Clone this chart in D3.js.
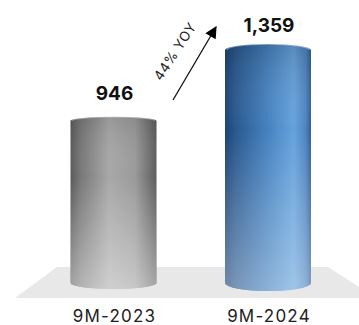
<!DOCTYPE html>
<html><head><meta charset="utf-8">
<script src="https://cdn.jsdelivr.net/npm/d3@7"></script>
<style>body{margin:0;background:#fff}svg{display:block}</style>
</head><body>
<svg id="c" width="359" height="325"></svg>
<script>
const categories = ["9M-2023", "9M-2024"];
const values = [946, 1359];
const valueLabels = ["946", "1,359"];
const growthLabel = "44% YOY";

const svg = d3.select("#c");
const x = d3.scalePoint().domain(categories).range([113.5, 268]);
const y = d3.scaleLinear().domain([0, 1359]).range([283, 50]);
const bw = 86;

const defs = svg.append("defs");
function hgrad(id, stops) {
  const g = defs.append("linearGradient").attr("id", id).attr("x1", 0).attr("x2", 1).attr("y1", 0).attr("y2", 0);
  stops.forEach(s => g.append("stop").attr("offset", s[0]).attr("stop-color", s[1]));
}
hgrad("g0", [[0, "#5a5a5a"], [0.12, "#787878"], [0.45, "#a8a8a8"], [0.75, "#9a9a9a"], [0.93, "#6e6e6e"], [1, "#5c5c5c"]]);
hgrad("g1", [[0, "#1b4272"], [0.12, "#29588f"], [0.5, "#4682c0"], [0.8, "#65a2dc"], [0.94, "#4d84be"], [1, "#2f5e96"]]);
function vgrad(id, topOp, botOp) {
  const vg = defs.append("linearGradient").attr("id", id).attr("x1", 0).attr("x2", 0).attr("y1", 0).attr("y2", 1);
  vg.append("stop").attr("offset", 0).attr("stop-color", "#000").attr("stop-opacity", topOp);
  vg.append("stop").attr("offset", 0.35).attr("stop-color", "#fff").attr("stop-opacity", 0.0);
  vg.append("stop").attr("offset", 1).attr("stop-color", "#fff").attr("stop-opacity", botOp);
}
vgrad("v0", 0.1, 0.45);
vgrad("v1", 0.15, 0.38);

// floor
svg.append("path")
  .attr("d", "M57,267 L328,267 L359,287 L359,298 L15,298 Z")
  .attr("fill", "#e8e8e8");

const ryTop = [4, 6], ryBot = [6, 8];
categories.forEach((c, i) => {
  const cx = x(c), l = cx - bw / 2, r = cx + bw / 2, rx = bw / 2;
  const top = y(values[i]), bot = y(0);
  const d = `M${l},${top} L${l},${bot} A${rx},${ryBot[i]} 0 0 0 ${r},${bot} L${r},${top} A${rx},${ryTop[i]} 0 0 0 ${l},${top} Z`;
  svg.append("path").attr("d", d).attr("fill", `url(#g${i})`);
  svg.append("path").attr("d", d).attr("fill", `url(#v${i})`);
  svg.append("path")
    .attr("d", `M${l+2},${top} A${rx-2},${ryTop[i]} 0 0 1 ${r-2},${top}`)
    .attr("fill", "none").attr("stroke", "#fff").attr("stroke-opacity", 0.35).attr("stroke-width", 1.5);
  svg.append("text").attr("x", cx + 1).attr("y", top - (i ? 18 : 21))
    .attr("text-anchor", "middle").attr("font-family", "Inter, sans-serif")
    .attr("font-weight", 700).attr("font-size", 19).attr("fill", "#111")
    .text(valueLabels[i]);
  svg.append("text").attr("x", cx + 1).attr("y", 322)
    .attr("text-anchor", "middle").attr("font-family", "Inter, sans-serif")
    .attr("font-weight", 400).attr("font-size", 17).attr("letter-spacing", 1.2).attr("fill", "#222")
    .text(c);
});

// growth arrow
defs.append("marker").attr("id", "ah").attr("viewBox", "0 0 10 10").attr("refX", 9).attr("refY", 5)
  .attr("markerWidth", 13).attr("markerHeight", 12).attr("orient", "auto").attr("markerUnits", "userSpaceOnUse")
  .append("path").attr("d", "M0,0 L10,5 L0,10 Z").attr("fill", "#000");
svg.append("line").attr("x1", 173).attr("y1", 100).attr("x2", 216).attr("y2", 27)
  .attr("stroke", "#111").attr("stroke-width", 1.3).attr("marker-end", "url(#ah)");
svg.append("text").attr("transform", "translate(179,54) rotate(-57)")
  .attr("text-anchor", "middle").attr("font-family", "Inter, sans-serif")
  .attr("font-size", 13.5).attr("letter-spacing", 0.5).attr("fill", "#222").text(growthLabel);
</script>
</body></html>
